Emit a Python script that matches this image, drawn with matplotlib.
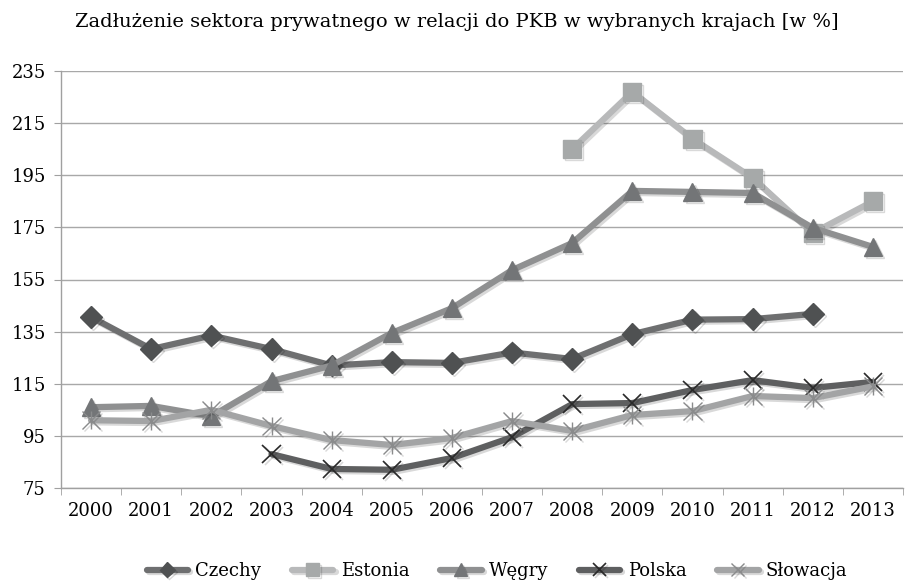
import matplotlib.pyplot as plt
import matplotlib.patheffects as pe
import numpy as np

# data
years = ["2000", "2001", "2002", "2003", "2004", "2005", "2006",
         "2007", "2008", "2009", "2010", "2011", "2012", "2013"]
czechy = [140.6, 128.3, 133.5, 128.3, 122.0, 123.3, 123.0, 127.0, 124.5, 134.0, 139.6, 139.8, 141.8, np.nan]
estonia = [np.nan] * 8 + [205.0, 227.0, 209.0, 194.0, 172.8, 185.0]
wegry = [106.0, 106.5, 102.5, 116.0, 122.0, 134.5, 144.0, 158.6, 169.0, 189.0, 188.6, 188.2, 174.8, 167.5]
polska = [np.nan] * 3 + [88.0, 82.3, 82.0, 86.5, 94.5, 107.2, 107.6, 112.6, 116.4, 113.4, 115.7]
slowacja = [101.0, 100.7, 105.0, 98.8, 93.4, 91.5, 94.2, 100.7, 96.9, 103.0, 104.5, 110.3, 109.5, 114.0]

names = ["Czechy", "Estonia", "Węgry", "Polska", "Słowacja"]
series = [czechy, estonia, wegry, polska, slowacja]
y_ticks = list(range(75, 236, 20))
title = "Zadłużenie sektora prywatnego w relacji do PKB w wybranych krajach [w %]"

plt.rcParams['font.family'] = ['DejaVu Serif']

styles = [
    dict(color="#6e6f70", marker="D", mfc="#4f5152", mec="#4f5152", ms=11),
    dict(color="#b8b9ba", marker="s", mfc="#a6a9a9", mec="#a6a9a9", ms=13),
    dict(color="#8f9091", marker="^", mfc="#737577", mec="#737577", ms=13),
    dict(color="#5e5f60", marker="x", mfc="#2a2a2a", mec="#2a2a2a", ms=13, mew=1.2),
    dict(color="#a3a4a5", marker="x", mfc="#8a8b8c", mec="#8a8b8c", ms=13, mew=1.0),
]

fig = plt.figure(figsize=(9.06, 5.82), dpi=100)
ax = fig.add_axes([61 / 906, 1 - 488 / 582, (903 - 61) / 906, (488 - 71) / 582])

x = np.arange(len(years))
shadow = [pe.SimpleLineShadow(offset=(1.5, -1.5), shadow_color="#000000", alpha=0.15), pe.Normal()]
for name, vals, st in zip(names, series, styles):
    ax.plot(x, vals, lw=4.5, label=name, solid_capstyle="round",
            solid_joinstyle="round", zorder=3, path_effects=shadow, **st)
    if name == "Słowacja":
        # asterisk marker: x plus vertical bar
        ax.plot(x, vals, lw=0, marker="|", ms=13, mec=st["mec"], mew=1.0, zorder=4)

ax.set_xlim(-0.5, len(years) - 0.5)
ax.set_ylim(75, 235)
ax.set_yticks(y_ticks)
ax.set_yticklabels([str(v) for v in y_ticks], fontsize=13)
ax.set_xticks(x)
ax.set_xticklabels(years, fontsize=13)
ax.set_xticks(np.arange(-0.5, len(years)), minor=True)
ax.tick_params(axis="x", which="major", length=0, pad=10)
ax.tick_params(axis="x", which="minor", length=5, color="#a0a0a0")
ax.tick_params(axis="y", length=5, color="#a0a0a0", pad=6)

ax.grid(axis="y", color="#a8a8a8", lw=1.0, zorder=0)
for s in ["top", "right"]:
    ax.spines[s].set_visible(False)
for s in ["left", "bottom"]:
    ax.spines[s].set_color("#a0a0a0")
    ax.spines[s].set_linewidth(1.0)

fig.text(457 / 906, 1 - 22 / 582, title, ha="center", va="center", fontsize=14)

leg = fig.legend(loc="center", bbox_to_anchor=(497 / 906, 1 - 571 / 582), ncol=5,
                 frameon=False, fontsize=13, handlelength=2.3, columnspacing=1.7,
                 handletextpad=0.4, markerscale=0.7)

fig.savefig("out.png", dpi=100)
